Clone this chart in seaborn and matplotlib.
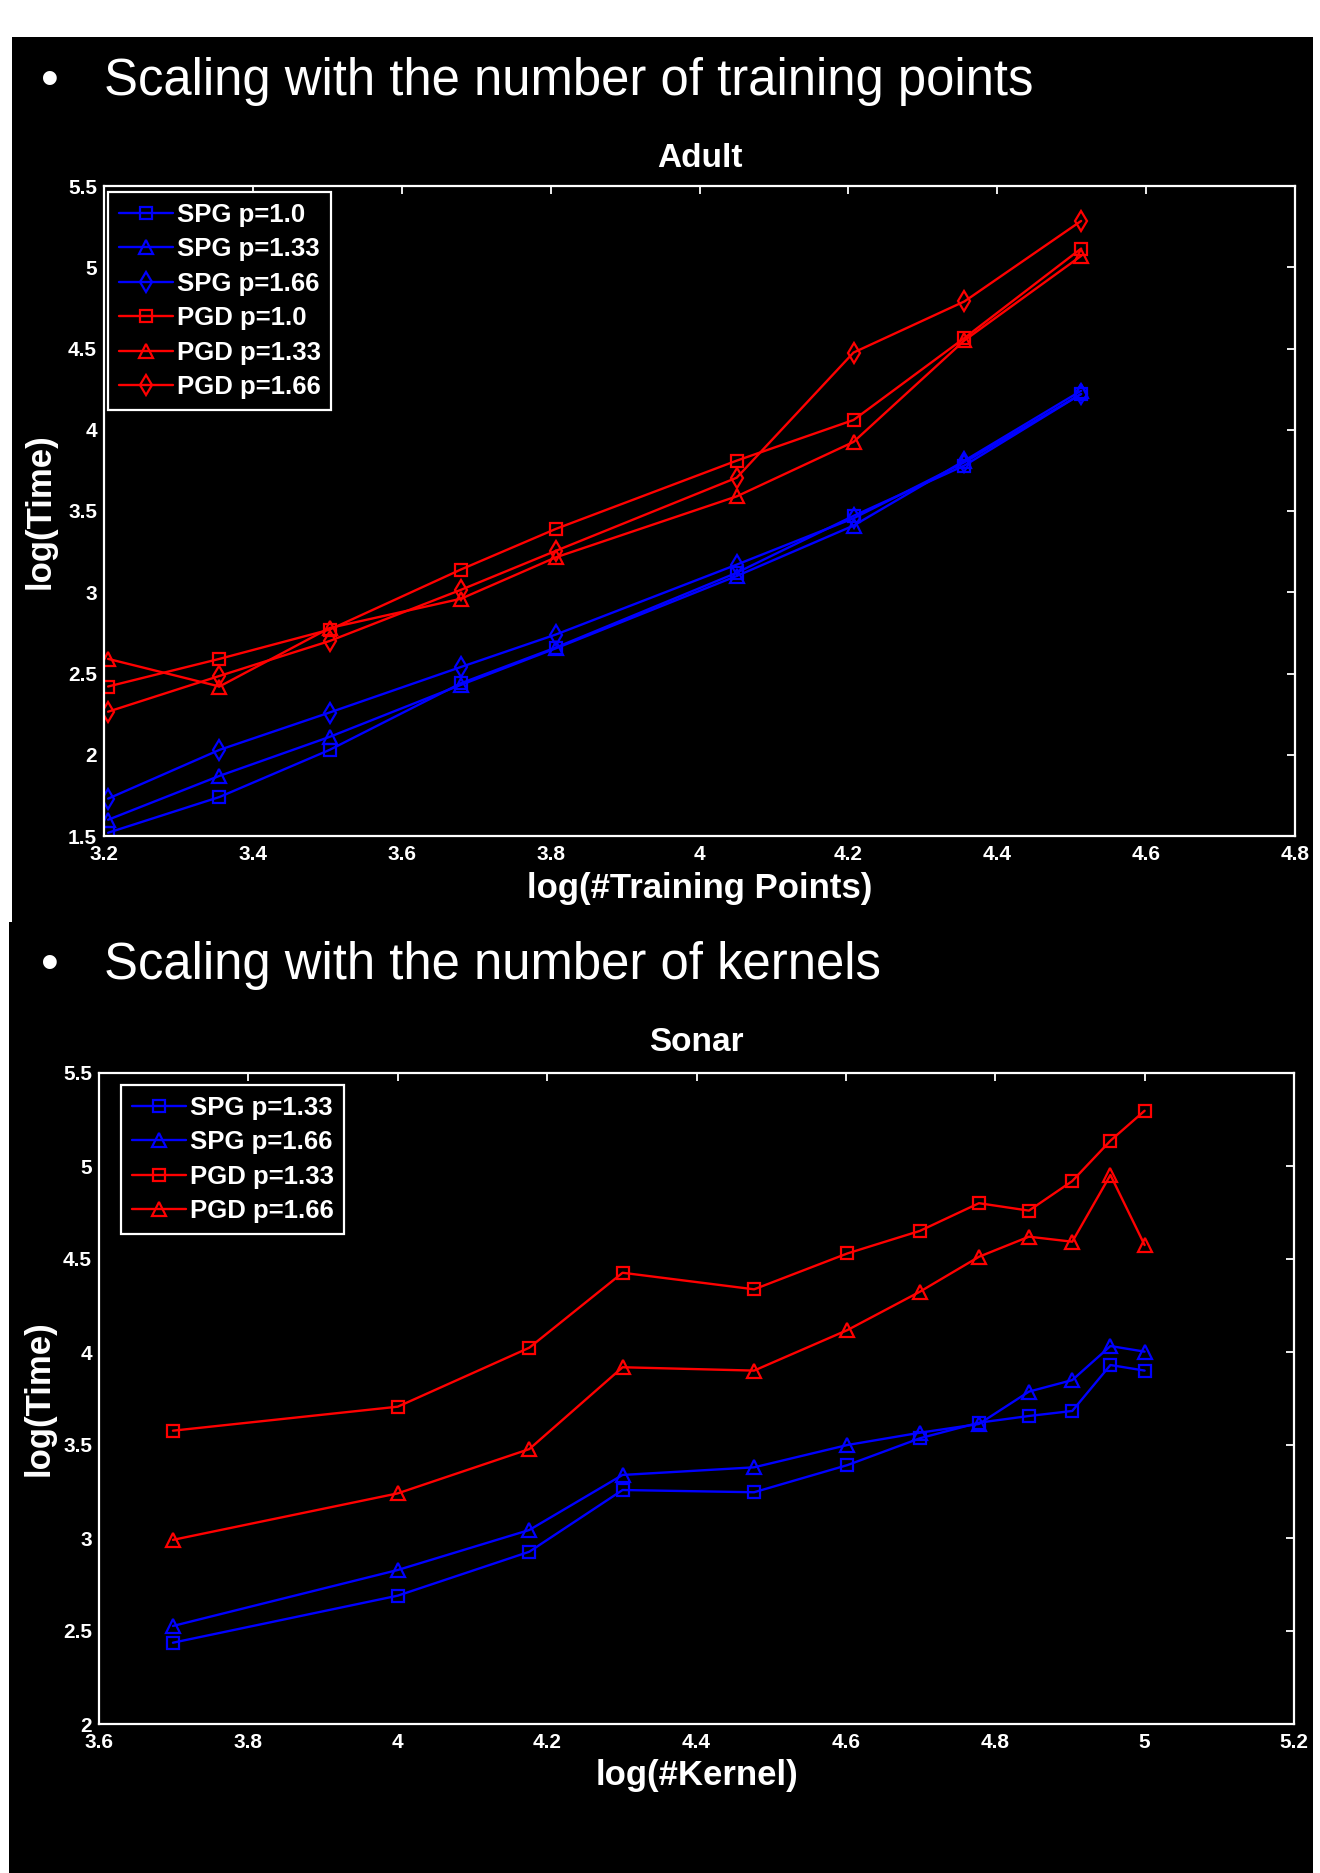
import numpy as np
import pandas as pd
import matplotlib
matplotlib.use("Agg")
import matplotlib.pyplot as plt
import seaborn as sns
from matplotlib.patches import Rectangle
from matplotlib.ticker import FixedLocator, FormatStrFormatter

# ---------------- data : Adult (scaling with training points) ----------------
adult_x = [3.2055, 3.3551, 3.5031, 3.6795, 3.8071, 4.0500, 4.2069, 4.3560, 4.5127]
adult_spg_p100 = [1.52, 1.74, 2.03, 2.44, 2.66, 3.12, 3.47, 3.78, 4.22]
adult_spg_p133 = [1.60, 1.87, 2.11, 2.43, 2.655, 3.10, 3.41, 3.81, 4.24]
adult_spg_p166 = [1.73, 2.03, 2.26, 2.54, 2.74, 3.17, 3.455, 3.80, 4.22]
adult_pgd_p100 = [2.42, 2.59, 2.77, 3.14, 3.39, 3.81, 4.06, 4.565, 5.115]
adult_pgd_p133 = [2.59, 2.42, 2.78, 2.96, 3.215, 3.59, 3.925, 4.55, 5.07]
adult_pgd_p166 = [2.265, 2.485, 2.70, 3.015, 3.255, 3.705, 4.475, 4.79, 5.285]
adult_labels = ["SPG p=1.0", "SPG p=1.33", "SPG p=1.66",
                "PGD p=1.0", "PGD p=1.33", "PGD p=1.66"]
adult_xticks = [3.2, 3.4, 3.6, 3.8, 4.0, 4.2, 4.4, 4.6, 4.8]
adult_yticks = [1.5, 2.0, 2.5, 3.0, 3.5, 4.0, 4.5, 5.0, 5.5]

# ---------------- data : Sonar (scaling with kernels) ----------------
sonar_x = [3.6990, 4.0, 4.1761, 4.3010, 4.4771, 4.6021, 4.6990, 4.7782,
           4.8451, 4.9031, 4.9542, 5.0]
sonar_spg_p133 = [2.437, 2.69, 2.926, 3.258, 3.246, 3.392, 3.536, 3.62,
                  3.656, 3.683, 3.93, 3.90]
sonar_spg_p166 = [2.527, 2.828, 3.043, 3.339, 3.38, 3.50, 3.566, 3.613,
                  3.787, 3.849, 4.032, 4.002]
sonar_pgd_p133 = [3.577, 3.706, 4.023, 4.426, 4.337, 4.53, 4.651, 4.80,
                  4.76, 4.919, 5.136, 5.297]
sonar_pgd_p166 = [2.99, 3.24, 3.478, 3.918, 3.90, 4.118, 4.324, 4.512,
                  4.62, 4.593, 4.952, 4.575]
sonar_labels = ["SPG p=1.33", "SPG p=1.66", "PGD p=1.33", "PGD p=1.66"]
sonar_xticks = [3.6, 3.8, 4.0, 4.2, 4.4, 4.6, 4.8, 5.0, 5.2]
sonar_yticks = [2.0, 2.5, 3.0, 3.5, 4.0, 4.5, 5.0, 5.5]

# ---------------- styling ----------------
sns.set_style("dark")
FONT = ["Liberation Sans", "DejaVu Sans"]
plt.rcParams["font.family"] = FONT

W, H = 1320, 1873
fig = plt.figure(figsize=(W / 100, H / 100), dpi=100, facecolor="white")

# slide backgrounds (black)
fig.patches.append(Rectangle((12 / W, 1 - 923 / H), (1313 - 12) / W, (923 - 37) / H,
                             transform=fig.transFigure, facecolor="black",
                             edgecolor="none", zorder=-10))
fig.patches.append(Rectangle((9 / W, 0), (1313 - 9) / W, 1 - 923 / H + 0.0005,
                             transform=fig.transFigure, facecolor="black",
                             edgecolor="none", zorder=-10))

# headings
for ybase, txt in [(95, "Scaling with the number of training points"),
                   (979, "Scaling with the number of kernels")]:
    fig.text(41 / W, 1 - ybase / H, "\u2022", color="white", fontsize=36.5,
             va="baseline", ha="left", family=FONT)
    fig.text(104 / W, 1 - ybase / H, txt, color="white", fontsize=36.6,
             va="baseline", ha="left", family=FONT)


def make_df(x, series, labels):
    rows = []
    for lab, ys in zip(labels, series):
        for xv, yv in zip(x, ys):
            rows.append({"x": xv, "y": yv, "series": lab})
    return pd.DataFrame(rows)


def style_axes(ax, xlim, ylim, xticks, yticks, title, xlabel, ylabelpad,
               xlabelpad, titlepad):
    ax.set_facecolor("black")
    ax.grid(False)
    ax.set_xlim(*xlim)
    ax.set_ylim(*ylim)
    ax.xaxis.set_major_locator(FixedLocator(xticks))
    ax.yaxis.set_major_locator(FixedLocator(yticks))
    ax.xaxis.set_major_formatter(FormatStrFormatter("%g"))
    ax.yaxis.set_major_formatter(FormatStrFormatter("%g"))
    for sp in ax.spines.values():
        sp.set_visible(True)
        sp.set_color("white")
        sp.set_linewidth(1.6)
    ax.tick_params(direction="in", length=6, width=1.3, colors="white",
                   top=True, right=True, labelsize=15, pad=5)
    ax.tick_params(axis="x", pad=6.5)
    for lab in ax.get_xticklabels() + ax.get_yticklabels():
        lab.set_fontweight("bold")
        lab.set_color("white")
    ax.set_title(title, color="white", fontsize=24, fontweight="bold", pad=titlepad)
    ax.set_xlabel(xlabel, color="white", fontsize=25, fontweight="bold",
                  labelpad=xlabelpad)
    ax.set_ylabel("log(Time)", color="white", fontsize=25, fontweight="bold",
                  labelpad=ylabelpad)


def draw(ax, df, labels, colors, markers, msizes, legend_anchor):
    sns.lineplot(data=df, x="x", y="y", hue="series", style="series",
                 hue_order=labels, style_order=labels,
                 palette=dict(zip(labels, colors)),
                 markers=dict(zip(labels, markers)), dashes=False,
                 estimator=None, sort=False, legend=False, ax=ax,
                 linewidth=1.7)
    lines = ax.lines[:len(labels)]
    for ln, c, ms in zip(lines, colors, msizes):
        ln.set_color(c)
        ln.set_markerfacecolor("none")
        ln.set_markeredgecolor(c)
        ln.set_markeredgewidth(1.6)
        ln.set_markersize(ms)
    leg = ax.legend(lines, labels, loc="upper left", bbox_to_anchor=legend_anchor,
                    borderaxespad=0, frameon=True, facecolor="black",
                    edgecolor="white", framealpha=1, fancybox=False,
                    prop=dict(family=FONT, weight="bold", size=18.5),
                    labelcolor="white", handlelength=2.1, handletextpad=0.15,
                    labelspacing=0.41, borderpad=0.42)
    leg.get_frame().set_linewidth(1.6)


# ---------------- top axes : Adult ----------------
ax1 = fig.add_axes([104 / W, 1 - 836 / H, (1295 - 104) / W, (836 - 186) / H])
df1 = make_df(adult_x, [adult_spg_p100, adult_spg_p133, adult_spg_p166,
                        adult_pgd_p100, adult_pgd_p133, adult_pgd_p166], adult_labels)
draw(ax1, df1, adult_labels,
     ["#0000ff"] * 3 + ["#ff0000"] * 3,
     ["s", "^", "d"] * 2, [9, 10, 10] * 2, (0.0034, 0.991))
style_axes(ax1, (3.2, 4.8), (1.5, 5.5), adult_xticks, adult_yticks,
           "Adult", "log(#Training Points)", ylabelpad=8, xlabelpad=5.5,
           titlepad=14)

# ---------------- bottom axes : Sonar ----------------
ax2 = fig.add_axes([99 / W, 1 - 1724 / H, (1294 - 99) / W, (1724 - 1073) / H])
df2 = make_df(sonar_x, [sonar_spg_p133, sonar_spg_p166,
                        sonar_pgd_p133, sonar_pgd_p166], sonar_labels)
draw(ax2, df2, sonar_labels,
     ["#0000ff"] * 2 + ["#ff0000"] * 2,
     ["s", "^"] * 2, [9, 10] * 2, (0.0184, 0.9816))
style_axes(ax2, (3.6, 5.2), (2.0, 5.5), sonar_xticks, sonar_yticks,
           "Sonar", "log(#Kernel)", ylabelpad=5, xlabelpad=5,
           titlepad=16)

fig.savefig("out.png", dpi=100, facecolor="white")
